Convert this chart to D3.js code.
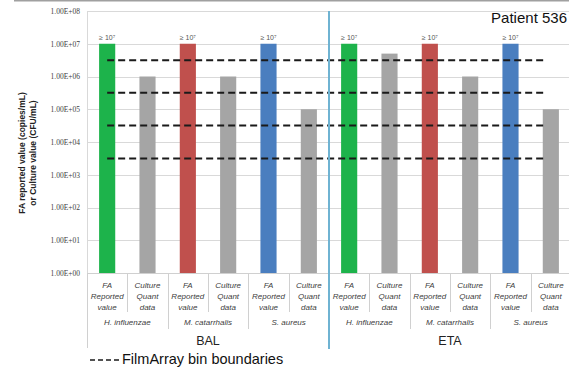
<!DOCTYPE html>
<html>
<head>
<meta charset="utf-8">
<script src="https://cdn.jsdelivr.net/npm/d3@7"></script>
<style>
  html, body { margin: 0; padding: 0; background: #fff; }
  svg { display: block; font-family: "Liberation Sans", Arial, sans-serif; }
</style>
</head>
<body>
<svg id="chart" width="569" height="370"></svg>
<script>
// ---- data ----
const specimens = ["BAL", "ETA"];
const organisms = ["H. influenzae", "M. catarrhalis", "S. aureus"];
const measures = [["FA", "Reported", "value"], ["Culture", "Quant", "data"]];
const measureKind = ["fa", "culture"];
const organismColors = ["#1db34b", "#c0504d", "#4a7ebf"];
const cultureColor = "#a5a5a5";

// FilmArray reported values (copies/mL), capped at the top bin
const faValues = {
  BAL: [1e7, 1e7, 1e7],
  ETA: [1e7, 1e7, 1e7]
};
// Quantitative culture values (CFU/mL)
const cultureValues = {
  BAL: [1e6, 1e6, 1e5],
  ETA: [5e6, 1e6, 1e5]
};
const faLabel = "≥ 10⁷";

// FilmArray bin boundaries (half-log between reported bins)
const binBoundaries = [3162, 31623, 316228, 3162278];

const yTicks = [1e0, 1e1, 1e2, 1e3, 1e4, 1e5, 1e6, 1e7, 1e8];
const yTickLabels = ["1.00E+00", "1.00E+01", "1.00E+02", "1.00E+03", "1.00E+04",
                     "1.00E+05", "1.00E+06", "1.00E+07", "1.00E+08"];

// ---- flatten into one bar per category slot ----
const bars = [];
specimens.forEach((sp, si) => {
  organisms.forEach((org, oi) => {
    measureKind.forEach((kind, mi) => {
      bars.push({
        id: `${sp}-${oi}-${mi}`,
        specimen: sp, organism: org, oi, mi, kind,
        value: kind === "fa" ? faValues[sp][oi] : cultureValues[sp][oi],
        color: kind === "fa" ? organismColors[oi] : cultureColor,
        lines: measures[mi]
      });
    });
  });
});

const svg = d3.select("#chart");
const plotTop = 11, plotBottom = 273, plotLeft = 87, plotRight = 571;

const x = d3.scaleBand().domain(bars.map(d => d.id)).range([plotLeft, plotRight]);
const y = d3.scaleLog().domain([1, 1e8]).range([plotBottom, plotTop]);
const bw = x.bandwidth();
const barW = bw * 0.4;

// page border line
svg.append("line").attr("x1", 14).attr("x2", 569).attr("y1", 0.5).attr("y2", 0.5)
  .attr("stroke", "#a0a0a0").attr("stroke-width", 2);

// horizontal gridlines
svg.append("g").selectAll("line").data(yTicks).join("line")
  .attr("x1", plotLeft).attr("x2", plotRight)
  .attr("y1", d => Math.round(y(d)) + 0.5).attr("y2", d => Math.round(y(d)) + 0.5)
  .attr("stroke", "#d9d9d9").attr("stroke-width", 1);

// y axis labels
const yAxis = d3.axisLeft(y).tickValues(yTicks)
  .tickFormat((d, i) => yTickLabels[i]).tickSize(0).tickPadding(7);
const gy = svg.append("g").attr("transform", `translate(${plotLeft},0)`).call(yAxis);
gy.select(".domain").attr("stroke", "#d9d9d9");
gy.selectAll("text").attr("font-size", 7.5).attr("fill", "#404040")
  .attr("font-family", "'Liberation Serif', serif");

// y axis title
const title = svg.append("g").attr("transform", "translate(0,153) rotate(-90)");
title.append("text").attr("x", 0).attr("y", 25).attr("text-anchor", "middle")
  .attr("font-size", 8.5).attr("font-weight", "bold").attr("fill", "#222")
  .text("FA reported value (copies/mL)");
title.append("text").attr("x", 0).attr("y", 36).attr("text-anchor", "middle")
  .attr("font-size", 8.5).attr("font-weight", "bold").attr("fill", "#222")
  .text("or Culture value (CFU/mL)");

// bars
svg.append("g").selectAll("rect").data(bars).join("rect")
  .attr("x", d => x(d.id) + (bw - barW) / 2)
  .attr("width", barW)
  .attr("y", d => y(d.value))
  .attr("height", d => y(1) - y(d.value))
  .attr("fill", d => d.color);

// "≥ 10⁷" labels on FilmArray bars
svg.append("g").selectAll("text").data(bars.filter(d => d.kind === "fa")).join("text")
  .attr("x", d => x(d.id) + bw / 2)
  .attr("y", d => y(d.value) - 4)
  .attr("text-anchor", "middle")
  .attr("font-size", 7).attr("fill", "#555")
  .text(faLabel);

// bin boundary dashed lines
const first = bars[0].id, last = bars[bars.length - 1].id;
svg.append("g").selectAll("line").data(binBoundaries).join("line")
  .attr("x1", x(first) + bw / 2).attr("x2", x(last) + bw / 2 - 5)
  .attr("y1", d => y(d)).attr("y2", d => y(d))
  .attr("stroke", "#1a1a1a").attr("stroke-width", 2)
  .attr("stroke-dasharray", "7,4");

// x axis line
svg.append("line").attr("x1", plotLeft).attr("x2", plotRight)
  .attr("y1", plotBottom + 0.5).attr("y2", plotBottom + 0.5)
  .attr("stroke", "#d0d0d0");

// category separators (three levels)
const sepColor = "#d0d0d0";
const boundaries = bars.map((d, i) => ({ xPos: x(d.id), i }));
boundaries.push({ xPos: plotRight, i: bars.length });
svg.append("g").selectAll("line").data(boundaries).join("line")
  .attr("x1", d => Math.round(d.xPos) + 0.5).attr("x2", d => Math.round(d.xPos) + 0.5)
  .attr("y1", plotBottom)
  .attr("y2", d => d.i % 6 === 0 ? 348 : d.i % 2 === 0 ? 329 : 312)
  .attr("stroke", sepColor);

// level 1 labels: measure
const lvl1 = svg.append("g").selectAll("text").data(bars).join("text")
  .attr("text-anchor", "middle")
  .attr("font-size", 8).attr("font-style", "italic").attr("fill", "#404040");
lvl1.each(function (d) {
  d3.select(this).selectAll("tspan").data(d.lines).join("tspan")
    .attr("x", x(d.id) + bw / 2)
    .attr("y", (t, i) => 288 + i * 11)
    .text(t => t);
});

// level 2 labels: organism
const groups = bars.filter(d => d.mi === 0);
svg.append("g").selectAll("text").data(groups).join("text")
  .attr("x", d => x(d.id) + bw)
  .attr("y", 325)
  .attr("text-anchor", "middle")
  .attr("font-size", 8).attr("font-style", "italic").attr("fill", "#404040")
  .text(d => d.organism);

// level 3 labels: specimen
svg.append("g").selectAll("text").data(specimens).join("text")
  .attr("x", (d, i) => x(bars[i * 6].id) + bw * 3)
  .attr("y", 345)
  .attr("text-anchor", "middle")
  .attr("font-size", 12.5).attr("fill", "#222")
  .text(d => d);

// specimen divider
svg.append("line")
  .attr("x1", x(bars[6].id)).attr("x2", x(bars[6].id))
  .attr("y1", plotTop).attr("y2", 349)
  .attr("stroke", "#6fb3d2").attr("stroke-width", 2);

// patient title
svg.append("text").attr("x", 567).attr("y", 23).attr("text-anchor", "end")
  .attr("font-size", 15).attr("fill", "#111").text("Patient 536");

// legend
svg.append("line").attr("x1", 90).attr("x2", 119).attr("y1", 360).attr("y2", 360)
  .attr("stroke", "#1a1a1a").attr("stroke-width", 1.5).attr("stroke-dasharray", "5,3");
svg.append("text").attr("x", 122).attr("y", 364)
  .attr("font-size", 14.5).attr("fill", "#111").text("FilmArray bin boundaries");
</script>
</body>
</html>
